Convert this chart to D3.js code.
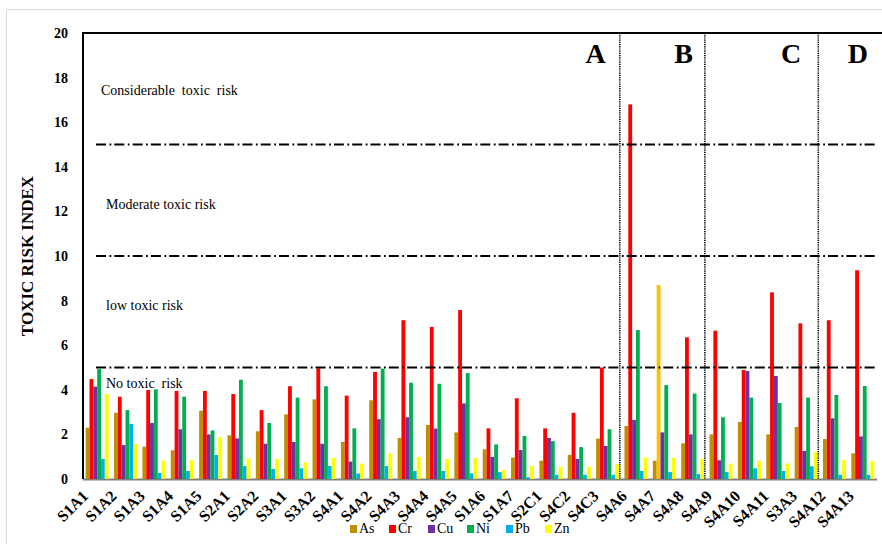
<!DOCTYPE html>
<html><head><meta charset="utf-8">
<script src="https://cdn.jsdelivr.net/npm/d3@7"></script>
<style>html,body{margin:0;padding:0;background:#fff;}svg{display:block;}</style>
</head><body>
<script>
const categories = ["S1A1","S1A2","S1A3","S1A4","S1A5","S2A1","S2A2","S3A1","S3A2","S4A1","S4A2","S4A3","S4A4","S4A5","S1A6","S1A7","S2C1","S4C2","S4C3","S4A6","S4A7","S4A8","S4A9","S4A10","S4A11","S3A3","S4A12","S4A13"];
const seriesNames = ["As","Cr","Cu","Ni","Pb","Zn"];
const As = [2.3,2.97,1.45,1.29,3.06,1.96,2.14,2.9,3.57,1.66,3.53,1.84,2.42,2.09,1.33,0.96,0.82,1.08,1.81,2.38,0.82,1.6,2.0,2.56,2.0,2.33,1.79,1.15];
const Cr = [4.48,3.69,3.99,3.95,3.95,3.81,3.09,4.16,4.96,3.74,4.8,7.12,6.82,7.58,2.27,3.62,2.27,2.97,5.0,16.8,8.7,6.35,6.65,4.89,8.37,6.98,7.12,9.36];
const Cu = [4.14,1.52,2.51,2.23,2.0,1.82,1.58,1.66,1.58,0.78,2.68,2.77,2.26,3.39,0.99,1.3,1.84,0.9,1.48,2.65,2.09,2.0,0.84,4.84,4.62,1.26,2.72,1.91];
const Ni = [4.93,3.09,4.02,3.69,2.18,4.45,2.51,3.65,4.16,2.27,4.95,4.32,4.27,4.75,1.55,1.93,1.7,1.43,2.23,6.68,4.21,3.83,2.77,3.65,3.41,3.65,3.77,4.17];
const Pb = [0.9,2.47,0.27,0.36,1.08,0.58,0.45,0.48,0.58,0.24,0.58,0.36,0.36,0.25,0.31,0.08,0.19,0.19,0.19,0.36,0.31,0.22,0.31,0.48,0.36,0.57,0.19,0.19];
const Zn = [3.81,1.57,0.82,0.85,1.87,0.9,0.9,0.75,0.94,0.69,1.15,0.99,0.9,0.94,0.4,0.58,0.54,0.54,0.66,0.97,0.94,0.9,0.69,0.82,0.7,1.21,0.85,0.82];
const yTicks = [0,2,4,6,8,10,12,14,16,18,20];
const riskThresholds = [5,10,15];
const riskLabels = [
  {text:"Considerable  toxic  risk", v:17.2, dx:18},
  {text:"Moderate toxic risk", v:12.1, dx:23},
  {text:"low toxic risk", v:7.6, dx:23},
  {text:"No toxic  risk", v:4.1, dx:23}
];
const zoneBoundaries = ["S4A6","S4A9","S4A12"];
const zoneLetters = ["A","B","C","D"];
const highlight = {category:"S4A7", series:"Cr", color:"#FFC000"};

const seriesValues = {As, Cr, Cu, Ni, Pb, Zn};
const colors = {As:"#BF8F00", Cr:"#FF0000", Cu:"#7030A0", Ni:"#00B050", Pb:"#00B0F0", Zn:"#FFFF00"};

const W = 882, H = 544;
const pL = 83, pR = 877, pT = 33, pB = 479;
const serif = "'Liberation Serif','Times New Roman',serif";

const svg = d3.select("body").append("svg").attr("width", W).attr("height", H);
svg.append("rect").attr("width", W).attr("height", H).attr("fill", "#fff");
svg.append("path").attr("d", `M6.5,${H} V9.5 H${W}`).attr("fill","none").attr("stroke","#d9d9d9").attr("stroke-width",1);

const x0 = d3.scaleBand().domain(categories).range([pL, pR]).paddingInner(0.19).paddingOuter(0.095);
const x1 = d3.scaleBand().domain(seriesNames).range([0, x0.bandwidth()]);
const y = d3.scaleLinear().domain([0, 20]).range([pB, pT]);
const xs = d3.scaleBand().domain(categories).range([pL, pR]);

svg.append("line").attr("x1", pL).attr("x2", pR).attr("y1", pB+0.5).attr("y2", pB+0.5)
  .attr("stroke", "#808080").attr("stroke-width", 2);

const groups = svg.append("g").selectAll("g").data(categories).join("g")
  .attr("transform", d => `translate(${x0(d)},0)`);
groups.selectAll("rect").data((c, i) => seriesNames.map(s => ({c, s, v: seriesValues[s][i]})))
  .join("rect")
  .attr("x", d => x1(d.s))
  .attr("width", x1.bandwidth())
  .attr("y", d => y(d.v))
  .attr("height", d => y(0) - y(d.v))
  .attr("fill", d => (d.c === highlight.category && d.s === highlight.series) ? highlight.color : colors[d.s]);

svg.append("g").selectAll("line").data(riskThresholds).join("line")
  .attr("x1", pL + 13).attr("x2", pR)
  .attr("y1", d => y(d)).attr("y2", d => y(d))
  .attr("stroke", "#000").attr("stroke-width", 2)
  .attr("stroke-dasharray", "10,3.5,1.8,3");

const divX = zoneBoundaries.map(b => xs(b) - 2);
svg.append("g").selectAll("line").data(divX).join("line")
  .attr("x1", d => d).attr("x2", d => d)
  .attr("y1", pT).attr("y2", pB)
  .attr("stroke", "#000").attr("stroke-width", 1.6).attr("stroke-dasharray", "1.2,1");

svg.append("g").selectAll("text").data(riskLabels).join("text")
  .attr("x", d => pL + d.dx).attr("y", d => y(d.v))
  .attr("font-family", serif).attr("font-size", 14).attr("fill", "#000")
  .attr("xml:space","preserve").style("white-space", "pre")
  .text(d => d.text);

const zoneRight = [divX[0] - 14, divX[1] - 12, divX[2] - 17, pR - 9];
svg.append("g").selectAll("text").data(zoneLetters).join("text")
  .attr("x", (d, i) => zoneRight[i]).attr("y", 63)
  .attr("text-anchor", "end")
  .attr("font-family", serif).attr("font-weight", "bold").attr("font-size", 28)
  .text(d => d);

const yAxis = svg.append("g").attr("transform", `translate(${pL},0)`)
  .call(d3.axisLeft(y).tickValues(yTicks).tickSize(0).tickPadding(15));
yAxis.select(".domain").remove();
yAxis.selectAll("text").attr("font-family", serif).attr("font-weight", "bold").attr("font-size", 14).attr("fill", "#000");

svg.append("path").attr("d", `M${pL},${pB} V${pT} H${W}`)
  .attr("fill", "none").attr("stroke", "#000").attr("stroke-width", 2);

svg.append("text").attr("transform", `translate(33,${(pT+pB)/2}) rotate(-90)`)
  .attr("text-anchor", "middle")
  .attr("font-family", serif).attr("font-weight", "bold").attr("font-size", 17)
  .text("TOXIC RISK INDEX");

const xAxis = svg.append("g").attr("transform", `translate(0,${pB})`)
  .call(d3.axisBottom(xs).tickSize(0).tickPadding(0));
xAxis.select(".domain").remove();
xAxis.selectAll("text")
  .attr("font-family", serif).attr("font-weight", "bold").attr("font-size", 16).attr("fill", "#000")
  .attr("text-anchor", "end").attr("dy", null)
  .attr("transform", "translate(-8,18) rotate(-45)");

const legend = svg.append("g").attr("transform", "translate(350,533)");
const li = legend.selectAll("g").data(seriesNames).join("g")
  .attr("transform", (d, i) => `translate(${i*39},0)`);
li.append("rect").attr("x", 0).attr("y", -8).attr("width", 7).attr("height", 8).attr("fill", d => colors[d]);
li.append("text").attr("x", 9).attr("y", 0)
  .attr("font-family", serif).attr("font-size", 14).text(d => d);
</script>
</body></html>
